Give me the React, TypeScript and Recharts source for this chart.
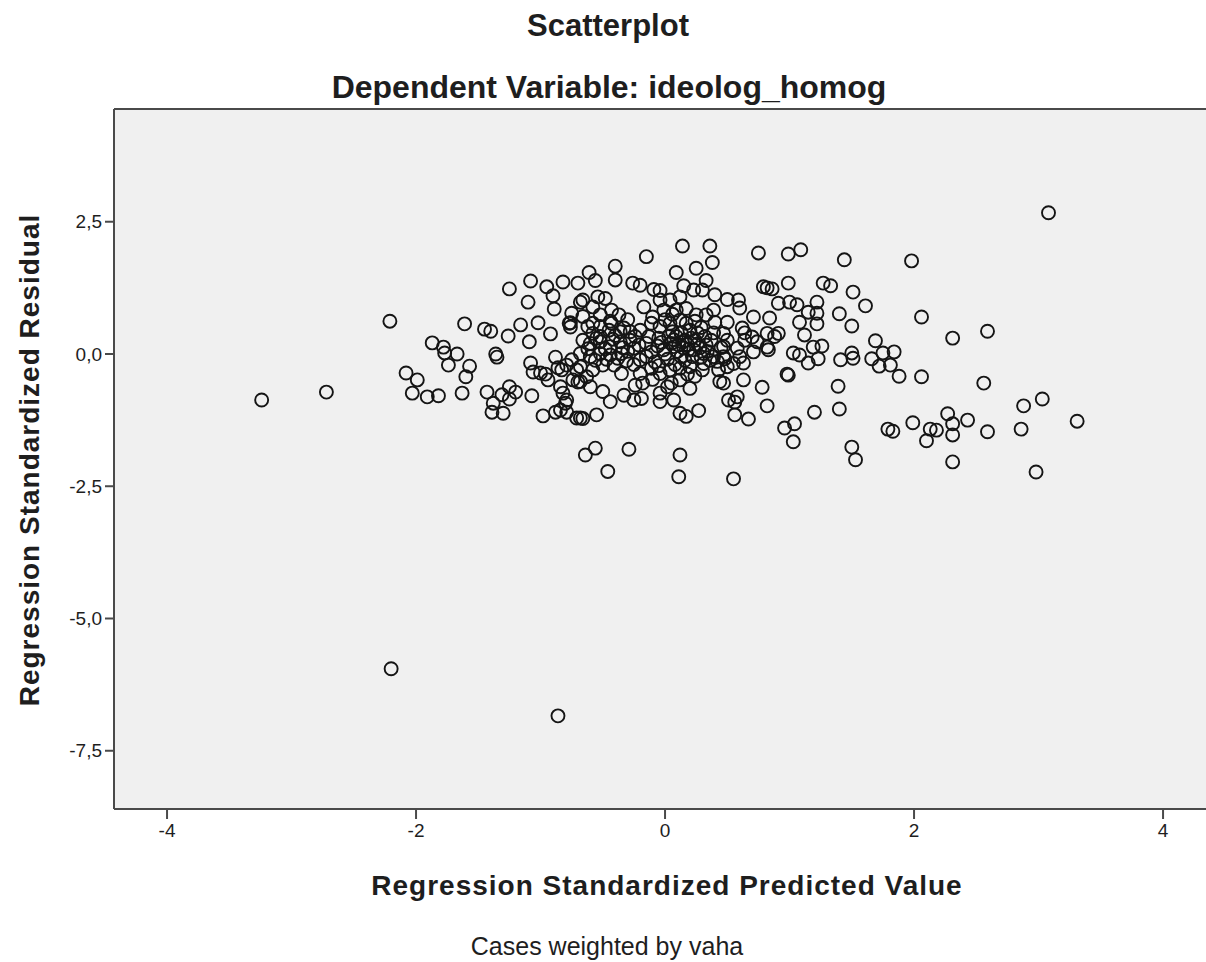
import { ScatterChart, Scatter, XAxis, YAxis, CartesianGrid, ReferenceLine } from 'recharts';

// Regression standardized predicted value (x) vs. standardized residual (y), as [x, y] pairs
const outlierCases: [number, number][] = [
  [-3.24, -0.87], [-2.72, -0.72], [-2.20, -5.95], [-0.86, -6.84], [3.08, 2.67],
];

const leftCases: [number, number][] = [
  [-2.21, 0.62], [-2.08, -0.36], [-1.99, -0.49], [-2.03, -0.74], [-1.91, -0.81], [-1.82, -0.79],
  [-1.87, 0.21], [-1.78, 0.13], [-1.77, 0.02], [-1.67, 0.0], [-1.74, -0.21], [-1.57, -0.23],
  [-1.60, -0.43], [-1.63, -0.74], [-1.61, 0.57],
  [-1.08, 1.38], [-1.25, 1.23], [-0.95, 1.27], [-0.90, 1.10], [-0.82, 1.36], [-0.70, 1.34],
  [-1.10, 0.98], [-0.89, 0.85], [-0.75, 0.77], [-0.76, 0.59], [-0.77, 0.58], [-1.45, 0.47],
  [-1.40, 0.43], [-1.16, 0.55], [-1.26, 0.34], [-1.02, 0.59], [-0.92, 0.38], [-1.09, 0.23],
  [-1.36, 0.0], [-1.35, -0.06], [-1.08, -0.17], [-1.06, -0.34], [-1.00, -0.36], [-0.96, -0.38],
  [-0.94, -0.49], [-0.88, -0.06], [-0.86, -0.26], [-0.83, -0.30], [-0.79, -0.21], [-0.75, -0.11],
  [-0.71, -0.30], [-0.74, -0.49], [-0.70, -0.53], [-0.63, -0.43], [-0.84, -0.62], [-0.82, -0.74],
  [-0.79, -0.87], [-0.84, -1.06], [-0.71, -1.21], [-0.98, -1.17], [-1.07, -0.79], [-1.43, -0.72],
  [-1.38, -0.93], [-1.39, -1.10], [-1.30, -1.12], [-1.31, -0.77], [-1.25, -0.62], [-1.25, -0.85],
  [-1.20, -0.72], [-0.76, 0.51], [-0.68, 0.98], [-0.80, -0.93], [-0.88, -1.10], [-0.79, -1.10],
  [-0.68, -1.21],
];

const centerCases: [number, number][] = [
  [0.14, 2.04], [0.36, 2.04], [-0.15, 1.84], [0.38, 1.73], [-0.40, 1.66], [-0.40, 1.40],
  [-0.61, 1.54], [-0.56, 1.39], [-0.26, 1.34], [-0.20, 1.30], [0.09, 1.54], [0.25, 1.62],
  [0.33, 1.39], [-0.09, 1.22], [-0.04, 1.20], [0.15, 1.29], [0.23, 1.21], [0.30, 1.21],
  [0.40, 1.12], [0.50, 1.03], [-0.54, 1.08], [-0.48, 1.05], [-0.66, 1.02], [-0.17, 0.89],
  [-0.04, 1.02], [0.04, 1.02], [0.12, 1.08], [-0.01, 0.83], [0.09, 0.83], [0.17, 0.86],
  [0.25, 0.74], [0.33, 0.74], [0.39, 0.83], [-0.58, 0.89], [-0.52, 0.74], [-0.43, 0.83],
  [-0.37, 0.74], [-0.66, 0.71], [-0.62, 0.52], [-0.52, 0.52], [-0.52, 0.33], [-0.58, 0.39],
  [-0.43, 0.58], [-0.33, 0.49], [-0.28, 0.42], [-0.11, 0.58], [-0.04, 0.52], [0.04, 0.58],
  [0.12, 0.64], [0.17, 0.58], [-0.13, 0.33], [-0.05, 0.30], [0.03, 0.33], [0.09, 0.33],
  [0.16, 0.26], [0.24, 0.26], [0.32, 0.33], [0.37, 0.26], [0.47, 0.39], [0.50, 0.26],
  [-0.66, 0.26], [-0.60, 0.20], [-0.52, 0.23], [-0.44, 0.14], [-0.36, 0.23], [-0.28, 0.26],
  [-0.21, 0.17], [-0.68, 0.01], [-0.60, -0.05], [-0.52, 0.01], [-0.44, -0.02], [-0.35, 0.01],
  [-0.25, 0.11], [-0.20, -0.11], [-0.11, 0.04], [-0.01, 0.08], [0.07, 0.14], [0.15, 0.11],
  [0.23, 0.08], [0.31, 0.01], [0.39, -0.05], [0.47, -0.05], [-0.68, -0.24], [-0.58, -0.30],
  [-0.50, -0.21], [-0.41, -0.21], [-0.35, -0.37], [-0.20, -0.37], [-0.11, -0.27], [-0.04, -0.37],
  [0.04, -0.30], [0.12, -0.27], [0.20, -0.24], [0.31, -0.18], [0.43, -0.30], [0.50, -0.24],
  [-0.68, -0.52], [-0.60, -0.62], [-0.50, -0.71], [-0.44, -0.90], [-0.33, -0.78], [-0.25, -0.87],
  [-0.19, -0.84], [-0.24, -0.59], [-0.04, -0.74], [-0.04, -0.90], [0.05, -0.55], [0.12, -0.49],
  [0.20, -0.65], [0.07, -0.87], [0.12, -1.12], [0.17, -1.18], [0.27, -1.07], [0.44, -0.52],
  [0.47, -0.55], [-0.66, -1.22], [-0.55, -1.15], [-0.64, -1.91], [-0.56, -1.78], [-0.46, -2.22],
  [-0.29, -1.80], [0.12, -1.91], [0.11, -2.32], [0.51, -0.87],
  [0.05, 0.20], [0.10, 0.05], [0.18, 0.18], [0.22, -0.05], [0.28, 0.12], [0.02, -0.10],
  [-0.06, 0.15], [0.13, 0.40], [0.20, 0.45], [0.26, 0.40], [-0.08, -0.15], [0.08, -0.20],
  [0.16, -0.12], [0.34, 0.05], [0.30, -0.30], [-0.15, 0.20], [-0.30, 0.05], [-0.40, 0.35],
  [-0.45, 0.45], [-0.48, 0.10], [-0.55, 0.30], [-0.62, 0.10], [-0.56, -0.12], [-0.38, -0.08],
  [-0.25, -0.20], [0.0, 0.65], [0.06, 0.75], [-0.10, 0.70], [0.40, 0.60], [0.36, -0.12],
  [-0.18, -0.55], [0.02, -0.62], [0.18, -0.38], [0.24, 0.62], [-0.30, 0.65], [0.45, 0.12],
  [0.11, 0.17], [0.14, 0.22], [0.19, 0.09], [0.26, 0.19], [0.21, 0.30], [0.07, 0.27],
  [0.00, 0.00], [-0.03, 0.22], [0.29, -0.06], [0.33, 0.17], [0.13, -0.05], [0.06, 0.42],
  [-0.20, 0.45], [-0.24, 0.33], [-0.34, 0.12], [-0.42, 0.28], [-0.47, -0.10], [-0.31, -0.13],
  [-0.15, -0.05], [-0.36, 0.42], [0.39, 0.40], [0.42, -0.14], [0.24, -0.42], [-0.10, -0.48],
  [-0.44, 0.62], [-0.58, 0.58], [0.29, 0.50], [-0.05, -0.22],
];

const rightCases: [number, number][] = [
  [0.75, 1.91], [0.99, 1.89], [1.09, 1.97], [1.44, 1.78], [0.79, 1.27], [0.86, 1.23],
  [0.82, 1.25], [0.99, 1.34], [1.27, 1.34], [1.33, 1.29], [1.51, 1.17], [1.61, 0.91],
  [0.91, 0.96], [1.00, 0.98], [1.06, 0.93], [1.22, 0.98], [1.22, 0.77], [1.22, 0.57],
  [1.40, 0.76], [1.50, 0.53], [1.08, 0.60], [1.15, 0.79], [1.12, 0.36], [0.84, 0.68],
  [0.91, 0.39], [0.71, 0.70], [0.59, 1.02], [0.60, 0.87], [0.50, 0.60], [0.64, 0.40],
  [0.70, 0.32], [0.74, 0.23], [0.82, 0.13], [0.48, -0.09], [0.63, -0.17], [1.03, 0.02],
  [1.08, -0.02], [1.19, 0.13], [1.26, 0.15], [1.15, -0.17], [1.23, -0.09], [1.41, -0.11],
  [1.50, 0.02], [1.51, -0.08], [0.98, -0.38], [0.99, -0.40], [0.63, -0.49], [0.78, -0.63],
  [0.58, -0.81], [0.56, -0.91], [0.82, -0.98], [1.39, -0.61], [1.40, -1.04], [0.56, -1.15],
  [0.67, -1.23], [1.20, -1.10], [0.96, -1.40], [1.04, -1.32], [1.03, -1.66], [1.50, -1.76],
  [1.53, -2.00], [0.55, -2.36], [0.62, 0.49], [0.64, 0.26], [0.58, 0.11], [0.71, 0.04],
  [0.83, 0.08], [0.47, 0.14], [0.55, -0.18], [0.60, -0.05], [0.82, 0.39], [0.88, 0.33],
  [1.98, 1.76], [2.06, 0.70], [2.31, 0.30], [2.59, 0.43], [1.69, 0.25], [1.75, 0.02],
  [1.84, 0.04], [1.66, -0.09], [1.72, -0.23], [1.81, -0.21], [1.88, -0.42], [2.06, -0.43],
  [2.56, -0.55], [2.88, -0.98], [3.03, -0.85], [3.31, -1.27], [1.99, -1.30], [2.27, -1.13],
  [2.43, -1.25], [2.31, -1.32], [1.79, -1.42], [1.83, -1.46], [2.13, -1.42], [2.18, -1.44],
  [2.10, -1.64], [2.31, -1.53], [2.59, -1.47], [2.86, -1.42], [2.31, -2.04], [2.98, -2.23],
];

const xTicks = [-4, -2, 0, 2, 4];
const yTicks = [-7.5, -5, -2.5, 0, 2.5];

const X_MIN = -4.426;
const X_MAX = 4.345;
const Y_MIN = -8.601;
const Y_MAX = 4.631;

const W = 1206;
const H = 962;
const FONT = '"Liberation Sans", Arial, sans-serif';
const INK = '#1e1e1e';
const AXIS = '#4a4a4a';

const points = [...outlierCases, ...leftCases, ...centerCases, ...rightCases].map(([x, y]) => ({ x, y }));

const Ring = (props: any) => {
  if (props.cx == null || props.cy == null) return null;
  return <circle cx={props.cx} cy={props.cy} r={6.5} fill="none" stroke="#151515" strokeWidth={1.9} />;
};

export default function App() {
  return (
    <div style={{ position: 'absolute', left: 0, top: 0, width: W, height: H, background: '#fff', overflow: 'hidden' }}>
      <ScatterChart width={W} height={H} margin={{ top: 109, right: 0, bottom: 113, left: 0 }}>
        <CartesianGrid horizontal={false} vertical={false} fill="#f0f0f0" stroke="none" />
        <XAxis
          type="number"
          dataKey="x"
          domain={[X_MIN, X_MAX]}
          ticks={xTicks}
          allowDataOverflow
          height={40}
          tickSize={10}
          tickMargin={5}
          axisLine={{ stroke: AXIS, strokeWidth: 2 }}
          tickLine={{ stroke: AXIS, strokeWidth: 2 }}
          tick={{ fill: INK, fontSize: 19, fontFamily: FONT }}
        />
        <YAxis
          type="number"
          dataKey="y"
          domain={[Y_MIN, Y_MAX]}
          ticks={yTicks}
          allowDataOverflow
          width={114}
          tickSize={9}
          tickMargin={3}
          tickFormatter={(v: number) => v.toFixed(1).replace('.', ',')}
          axisLine={{ stroke: AXIS, strokeWidth: 2 }}
          tickLine={{ stroke: AXIS, strokeWidth: 2 }}
          tick={{ fill: INK, fontSize: 19, fontFamily: FONT }}
        />
        <ReferenceLine y={Y_MAX} stroke={AXIS} strokeWidth={2} ifOverflow="visible" />
        <Scatter data={points} shape={Ring} isAnimationActive={false} />
      </ScatterChart>
      <svg width={W} height={H} style={{ position: 'absolute', left: 0, top: 0, pointerEvents: 'none' }}>
        <g fontFamily={FONT} fill={INK} fontWeight="bold">
          <text x={608} y={36} fontSize={31} textAnchor="middle">Scatterplot</text>
          <text x={609} y={98} fontSize={32} textAnchor="middle">Dependent Variable: ideolog_homog</text>
          <text x={667} y={895} fontSize={28} textAnchor="middle" letterSpacing={1}>
            Regression Standardized Predicted Value
          </text>
          <text x={39} y={460} fontSize={28} textAnchor="middle" letterSpacing={1} transform="rotate(-90 39 460)">
            Regression Standardized Residual
          </text>
        </g>
        <text x={607} y={955} fontSize={25} textAnchor="middle" fontFamily={FONT} fill={INK}>
          Cases weighted by vaha
        </text>
      </svg>
    </div>
  );
}
